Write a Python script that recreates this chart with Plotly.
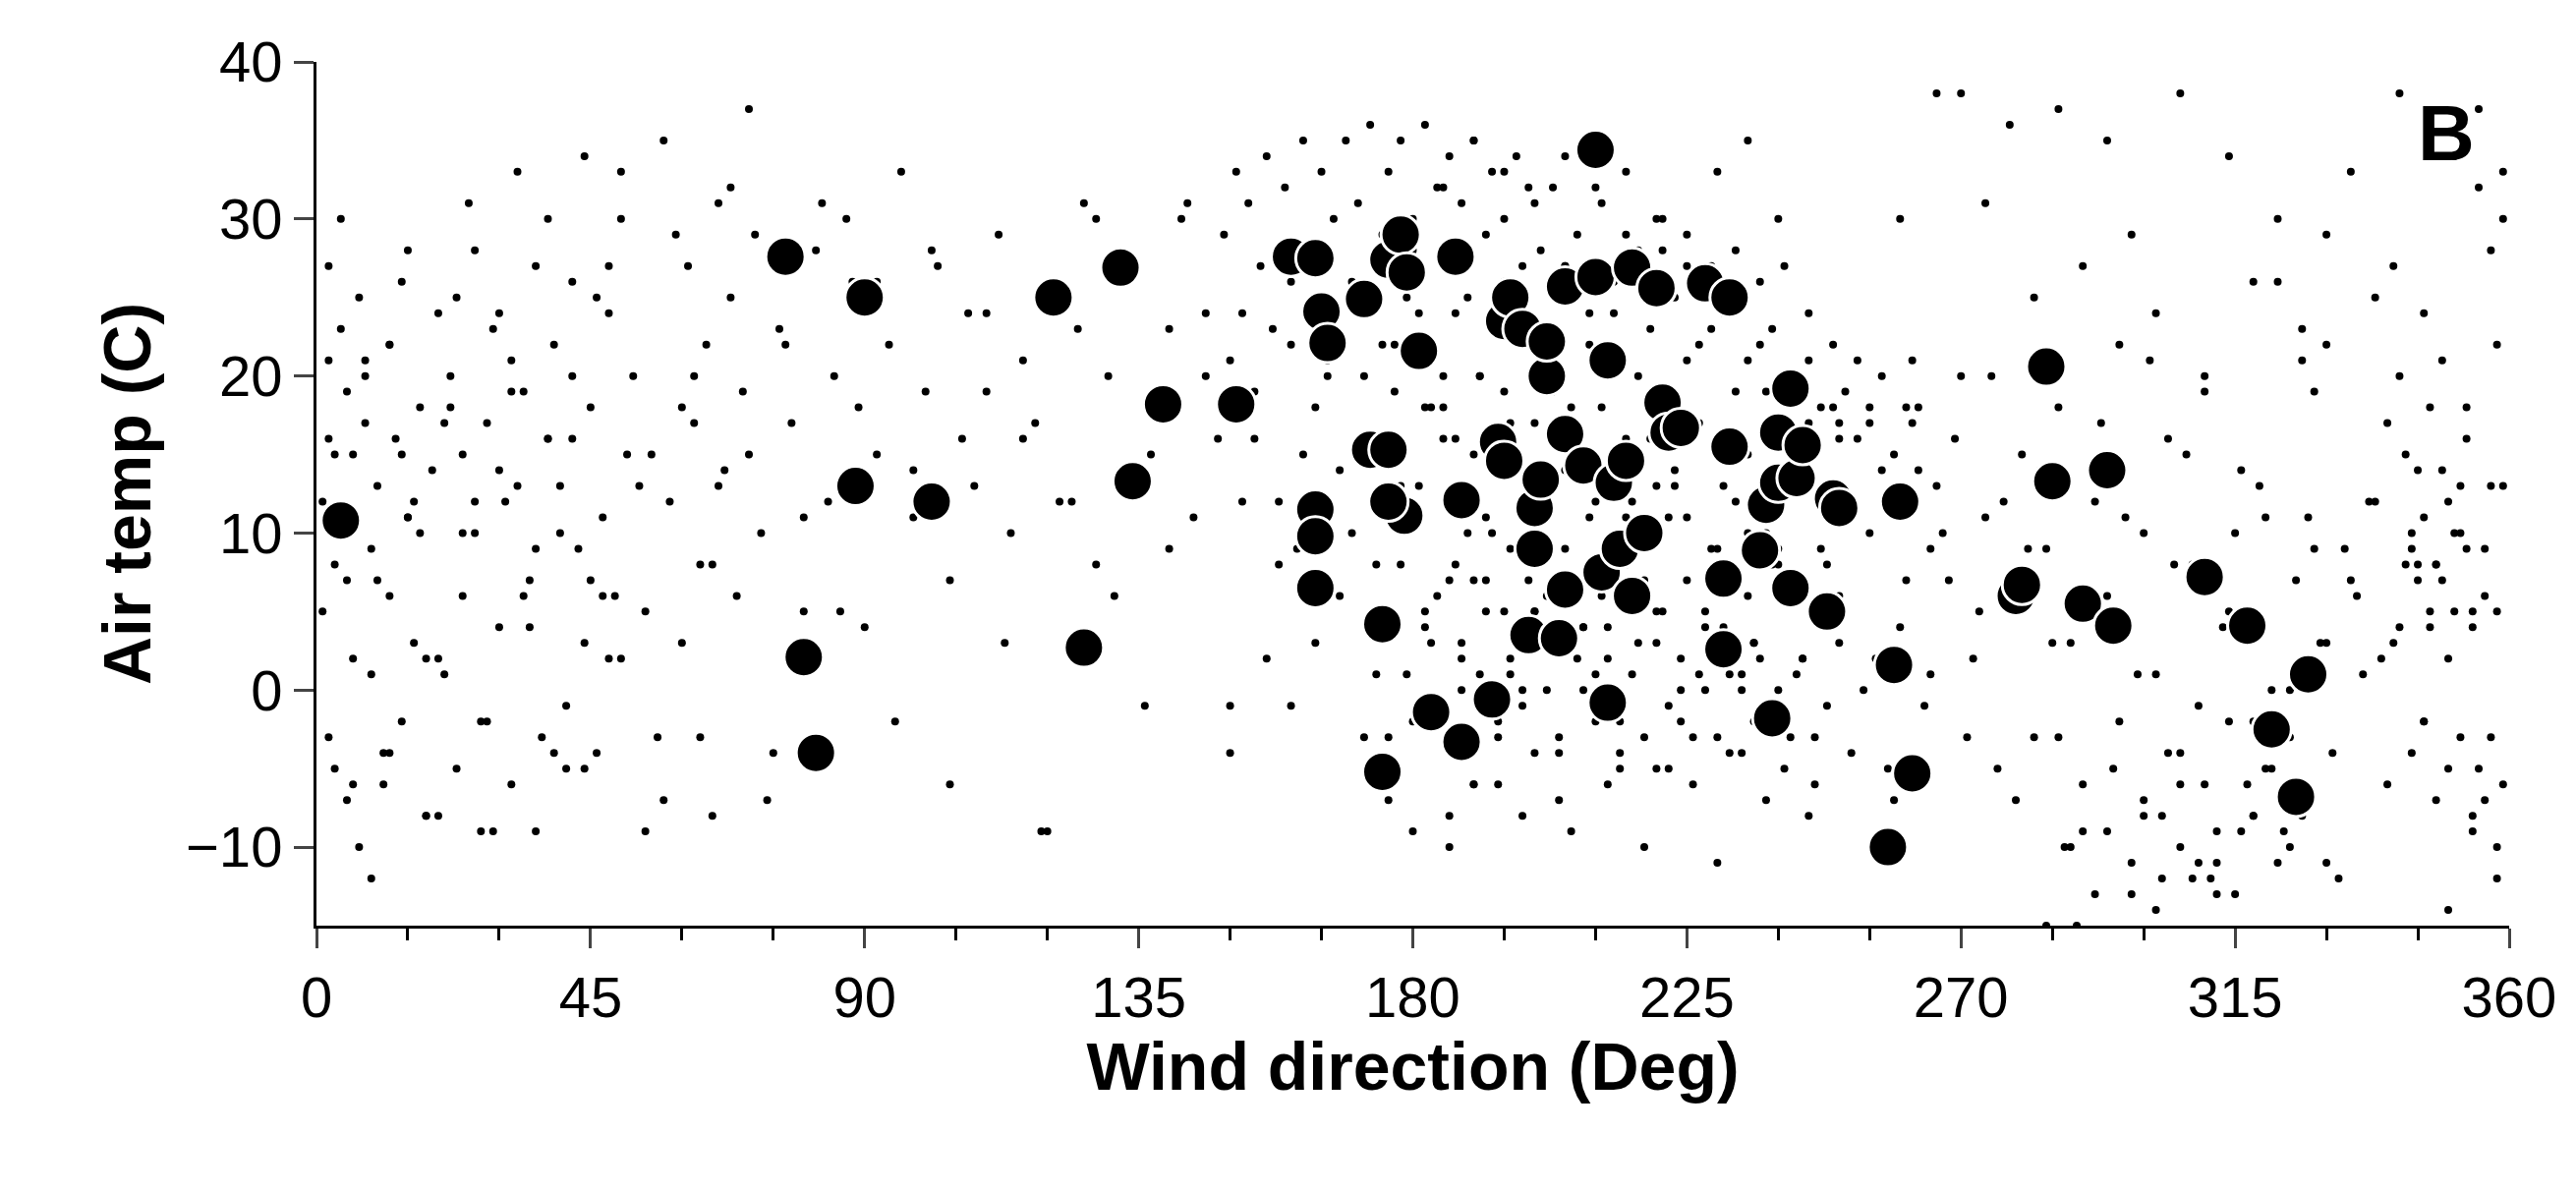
import plotly.graph_objects as go

# Large highlighted observations (wind direction deg, air temp C)
big_dir = [4,77,90,80,88.5,101,82,121,126,132,134,139,151,160,164,165,166,164,164,164,172,173,175,176,176,178,179,181,178.6,176,175,183,187,188,188,193,194,195,195,196,198,199,200,200,201,202,202,205,205,205,204,208,210,210,212,211,212,213,214,215,216,216,218,220,221,222,224,228,231,231,232,232,237,238,239,240,240,242,242,243,244,248,249,250,258,259,260,262,279,280,284,285,290,294,295,310,317,321,325,327]
big_temp = [10.8,27.6,25,2.1,13,12,-4,25,2.7,26.9,13.3,18.2,18.2,27.6,27.5,24.1,22.1,11.5,9.8,6.5,24.9,15.3,4.2,15.3,27.4,29,26.6,21.6,11.1,12,-5.2,-1.4,27.6,-3.3,12.1,-0.6,15.8,14.6,23.5,25,23,3.5,9,11.6,13.4,20,22.2,25.7,16.3,6.4,3.3,14.3,26.3,34.4,21,7.5,-0.8,13.2,9,14.6,26.9,6,10,25.6,18.3,16.4,16.7,25.9,7.1,2.6,15.5,25,8.9,11.8,-1.8,16.4,13.2,19.2,6.5,13.5,15.6,5,12.2,11.6,-10,1.6,12,-5.3,6,6.7,20.6,13.3,5.5,14,4.1,7.2,4.1,-2.5,-6.8,1]

# All observations (estimated from the figure)
all_dir = [
 1,1,2,2,3,3,4,5,5,6,7,7,8,9,9,10,11,12,12,13,14,15,15,16,17,18,19,20,21,22,23,24,25,26,27,28,29,30,31,32,33,34,35,36,37,38,39,40,41,42,43,44,45,46,47,48,49,50,52,54,55,57,58,60,61,62,63,64,65,66,67,68,69,70,71,72,73,75,76,78,80,82,84,85,87,88,90,92,94,96,98,100,102,104,106,108,110,112,114,116,118,120,122,124,126,128,130,132,134,136,138,140,142,144,146,148,150,
 2,4,6,8,10,12,14,16,18,20,22,24,26,28,30,32,34,36,38,40,42,44,46,48,50,53,56,59,62,65,68,71,74,77,80,83,86,89,92,95,98,101,104,107,110,113,116,119,122,125,128,131,134,137,140,143,146,149,
 150,151,152,153,154,155,156,157,158,159,160,161,162,163,164,165,166,167,168,169,170,171,172,173,174,175,176,177,178,179,180,181,182,183,184,185,186,187,188,189,190,191,192,193,194,195,196,197,198,199,200,
 150,152,154,156,158,160,162,164,166,168,170,172,174,176,178,180,182,184,186,188,190,192,194,196,198,200,202,204,206,208,210,212,214,216,218,220,222,224,226,228,230,232,234,236,238,240,242,244,246,248,250,
 175,177,179,181,183,185,187,189,191,193,195,197,199,201,203,205,207,209,211,213,215,217,219,221,223,225,227,229,231,233,235,237,239,241,243,245,247,249,251,253,255,257,259,
 176,178,180,182,184,186,188,190,192,194,196,198,200,202,204,206,208,210,212,214,216,218,220,222,224,226,228,230,232,234,236,238,240,242,244,246,248,250,252,254,256,258,260,
 201,203,205,207,209,211,213,215,217,219,221,223,225,227,229,231,233,235,237,239,241,243,245,247,249,251,253,255,257,259,261,263,265,
 260,262,264,266,268,270,272,274,276,278,280,282,284,286,288,290,292,294,296,298,300,302,304,306,308,310,312,314,316,318,320,322,324,326,328,330,332,334,336,338,340,342,344,346,348,350,352,354,356,358,359,
 261,263,265,267,269,271,273,275,277,279,281,283,285,287,289,291,293,295,297,299,301,303,305,307,309,311,313,315,317,319,321,323,325,327,329,331,333,335,337,339,341,343,345,347,349,351,353,355,357,359,
 262,266,270,274,278,282,286,290,294,298,302,306,310,314,318,322,326,330,334,338,342,346,350,354,358,
 284,286,288,290,292,294,296,298,300,302,304,306,308,310,312,314,316,318,320,322,324,326,328,330,
 340,342,344,346,348,350,352,354,356,358,341,345,349,353,357,343,347,351,355,359,
 190,195,200,205,210,215,220,225,230,235,240,180,185,170,165,160,245,250,255,
 185,190,195,200,205,210,215,220,225,230,235,240,245,250,
 181,183,185,187,189,191,193,195,197,199,201,203,205,207,209,211,213,215,217,219,221,223,225,227,229,231,233,235,237,239,241,243,245,
 182,184,186,188,190,192,194,196,198,200,202,204,206,208,210,212,214,216,218,220,222,224,226,228,230,232,234,236,238,240,
 3,6,9,12,15,18,21,24,27,30,33,36,39,42,45,48,51,54,57,60,63,66,
 2,5,8,11,14,17,20,23,26,29,32,35,38,41,44,47,50,
 345,347,349,351,353,355,357,359,344,346,348,350,352,354,356,358,
 300,303,306,309,312,315,318,321,324,327,330,333,336,339,
]
all_temp = [
 12,5,21,-3,8,15,30,-7,19,2,25,-10,17,-12,9,13,-4,22,6,16,-2,11,28,3,18,-8,14,24,1,20,-5,15,31,10,-9,17,23,4,12,-6,33,19,7,27,-3,16,22,13,-5,26,9,34,18,-4,11,24,6,30,20,-9,15,35,12,3,27,17,8,22,-8,31,14,25,6,19,37,29,10,-4,23,17,5,28,12,20,30,26,4,15,22,33,11,19,27,-6,16,13,24,29,10,21,17,-9,25,12,31,8,20,14,27,-1,18,23,30,11,24,16,
 -1,16,23,-6,20,7,-4,26,12,2,-8,18,10,28,-2,14,21,6,-9,30,10,16,-5,25,2,33,13,-3,29,20,8,32,15,-7,22,11,31,5,18,26,-2,14,28,7,24,19,3,16,-9,12,23,30,6,27,15,9,31,20,
 29,21,33,24,31,16,27,34,23,12,32,26,9,35,28,18,33,21,30,14,35,25,31,20,36,8,29,33,22,35,1,30,24,36,18,32,27,34,16,31,25,35,20,29,33,23,30,17,34,27,32,
 5,-4,12,19,2,8,-1,15,3,20,6,10,-3,1,-7,13,-2,18,6,-8,3,7,11,-6,1,0,5,9,-3,18,4,-1,2,-4,12,7,-5,11,-2,16,4,-3,8,0,-2,10,-1,6,2,-3,8,
 17,22,19,25,13,21,18,24,10,20,16,26,14,23,12,19,27,15,22,18,24,11,20,16,28,14,21,17,23,13,19,15,22,11,20,14,17,9,18,12,16,10,14,
 -7,-3,8,-9,5,-1,-10,2,-6,7,-2,9,-8,3,0,-4,-9,4,1,-6,-2,6,-10,3,-5,0,-3,5,-11,1,-4,3,-7,0,-3,2,-6,-1,3,-4,0,2,-5,
 30,28,32,27,29,24,31,26,33,28,23,30,25,29,22,27,24,28,21,26,23,27,20,24,18,22,19,21,17,20,15,18,14,
 9,4,17,-1,13,7,20,2,11,-5,6,15,-3,9,18,3,-9,12,6,22,-13,10,1,16,-4,8,20,-11,5,14,-2,11,26,0,-8,9,3,-12,7,1,12,-6,4,10,-2,8,2,13,5,9,
 22,13,7,18,1,10,16,-3,5,20,12,-7,9,14,3,-10,-15,6,17,-5,11,1,21,-8,8,15,-1,-12,4,10,-6,13,0,-9,7,11,3,-4,9,6,12,2,27,8,14,5,21,10,18,
 37,28,33,21,38,38,31,36,25,37,27,35,29,24,38,19,34,26,30,23,29,33,25,38,24,
 -14,-8,-12,-15,-3,-10,-6,-13,-9,-2,-11,-7,-14,-4,-10,-12,-6,-13,-2,-9,-8,-5,-11,-3,
 21,19,22,17,20,9,11,8,12,10,4,6,5,3,7,14,16,13,15,18,
 34,32,30,35,33,31,34,32,29,30,27,33,35,30,28,32,26,24,22,
 21,16,18,20,15,19,17,14,12,16,13,11,9,10,
 9,14,6,11,3,16,8,13,1,10,5,15,7,12,4,9,2,11,6,14,8,3,10,5,13,7,1,9,4,12,6,2,8,
 -5,1,-8,4,-2,7,0,-6,5,-3,2,-1,-4,6,-7,3,0,-2,4,-5,1,-3,5,-1,2,-6,0,3,-4,1,
 3,19,8,-5,15,1,22,11,-8,17,6,-2,24,13,9,-4,20,7,27,15,5,-7,
 18,-3,13,27,7,21,-6,15,10,2,25,12,-9,19,4,16,-1,
 3,6,2,8,4,7,5,9,-5,-3,-6,-4,-2,-7,-5,-3,
 -9,-7,-10,-8,-12,-6,-11,-9,-13,-8,-5,-10,-7,-11,
]

fig = go.Figure()
fig.add_trace(go.Scatter(x=all_dir, y=all_temp, mode="markers",
                         marker=dict(color="black", size=8), showlegend=False))
fig.add_trace(go.Scatter(x=big_dir, y=big_temp, mode="markers",
                         marker=dict(color="black", size=40, line=dict(color="white", width=3)),
                         showlegend=False))

fig.update_layout(
    width=2621, height=1210, plot_bgcolor="white", paper_bgcolor="white",
    margin=dict(l=314, r=76, t=55, b=276),
    font=dict(family="Liberation Sans, Arial, sans-serif", color="black"),
    annotations=[dict(text="<b>B</b>", x=0.985, y=0.97, xref="paper", yref="paper",
                      xanchor="right", yanchor="top", showarrow=False, font=dict(size=80))],
)
fig.update_xaxes(range=[0, 360], tickvals=[0,45,90,135,180,225,270,315,360],
                 showline=True, linecolor="black", linewidth=3, ticks="outside",
                 ticklen=20, tickwidth=3, tickfont=dict(size=58), showgrid=False, zeroline=False,
                 minor=dict(tickvals=list(range(15, 360, 15)), ticks="outside", ticklen=12, tickwidth=3, tickcolor="black"),
                 title=dict(text="<b>Wind direction (Deg)</b>", font=dict(size=68), standoff=6))
fig.update_yaxes(range=[-15, 40], tickvals=[-10,0,10,20,30,40],
                 showline=True, linecolor="black", linewidth=3, ticks="outside",
                 ticklen=20, tickwidth=3, tickfont=dict(size=58), showgrid=False, zeroline=False,
                 title=dict(text="<b>Air temp (C)</b>", font=dict(size=68), standoff=14))
fig.write_html("out.html")
